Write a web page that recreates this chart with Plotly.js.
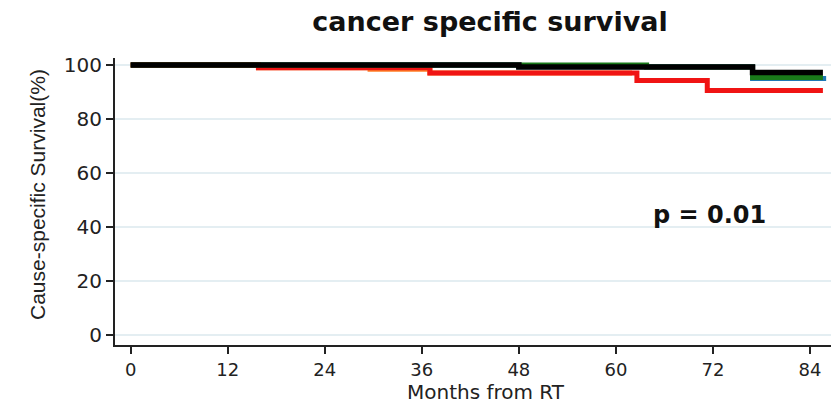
<!DOCTYPE html>
<html><head><meta charset="utf-8">
<script src="https://cdn.plot.ly/plotly-3.0.1.min.js"></script>
<style>body{margin:0;background:#fff}#c{width:831px;height:406px}</style>
</head><body><div id="c"></div>
<script>
const blueX = [0, 48, 76.9, 86];
const blueY = [100, 99.4, 95.0, 95.0];
const orangeX = [0, 15.8, 29.6, 37, 62];
const orangeY = [100, 99.0, 98.4, 97.0, 97.0];
const redX = [0, 15.8, 37, 62.6, 71.3, 85.6];
const redY = [100, 99.0, 97.0, 94.3, 90.6, 90.6];
const greenX = [0, 63.8, 76.9, 85.6];
const greenY = [100, 99.3, 95.4, 95.4];
const blackX = [0, 48, 76.9, 85.6];
const blackY = [100, 99.3, 97.2, 97.2];
const xTicks = [0, 12, 24, 36, 48, 60, 72, 84];
const yTicks = [0, 20, 40, 60, 80, 100];

function tr(x, y, c, w){ return {x:x, y:y, type:'scatter', mode:'lines', line:{shape:'hv', color:c, width:w}, hoverinfo:'skip'}; }
const data = [tr(blueX, blueY, '#1e78b4', 5), tr(orangeX, orangeY, '#ff7f27', 5), tr(redX, redY, '#f01414', 5), tr(greenX, greenY, '#1a7a1a', 5), tr(blackX, blackY, '#000000', 5.5)];

function axisCommon(sz){ return {showline:true, linecolor:'#222', linewidth:2, ticks:'outside', ticklen:7, tickwidth:2, tickcolor:'#222', zeroline:false,
  tickfont:{size:sz, color:'#222', family:'DejaVu Sans, sans-serif'}}; }

const layout = {
  width: 831, height: 406,
  margin: {l:115, r:0, t:58, b:61},
  paper_bgcolor:'#fff', plot_bgcolor:'#fff',
  showlegend:false,
  font:{family:'DejaVu Sans, sans-serif', color:'#222'},
  title:{text:'<b>cancer specific survival</b>', x:0.5897, xanchor:'center', y:0.946, yanchor:'middle', font:{size:27, color:'#111', family:'DejaVu Sans, sans-serif'}},
  xaxis:Object.assign({range:[-1.94, 86.6], tickvals:xTicks, ticktext:xTicks.map(String), showgrid:false, ticklabeloverflow:'allow'}, axisCommon(18)),
  yaxis:Object.assign({range:[-3.7, 102.6], tickvals:yTicks, ticktext:yTicks.map(String), showgrid:true, gridcolor:'#e4eef2', gridwidth:1.5}, axisCommon(20)),
  annotations:[
    {text:'<b>p = 0.01</b>', x:71.6, y:44.4, xref:'x', yref:'y', showarrow:false, font:{size:24, color:'#111', family:'DejaVu Sans, sans-serif'}, xanchor:'center', yanchor:'middle'},
    {text:'Months from RT', x:0.518, y:-0.1638, xref:'paper', yref:'paper', showarrow:false, font:{size:20, color:'#222', family:'DejaVu Sans, sans-serif'}, xanchor:'center', yanchor:'middle'},
    {text:'Cause-specific Survival(%)', x:-0.109, y:0.526, xref:'paper', yref:'paper', textangle:-90, showarrow:false, font:{size:21, color:'#222', family:'Liberation Sans, Arial, sans-serif'}, xanchor:'center', yanchor:'middle'}
  ]
};
Plotly.newPlot('c', data, layout, {displayModeBar:false, staticPlot:true});
</script></body></html>
